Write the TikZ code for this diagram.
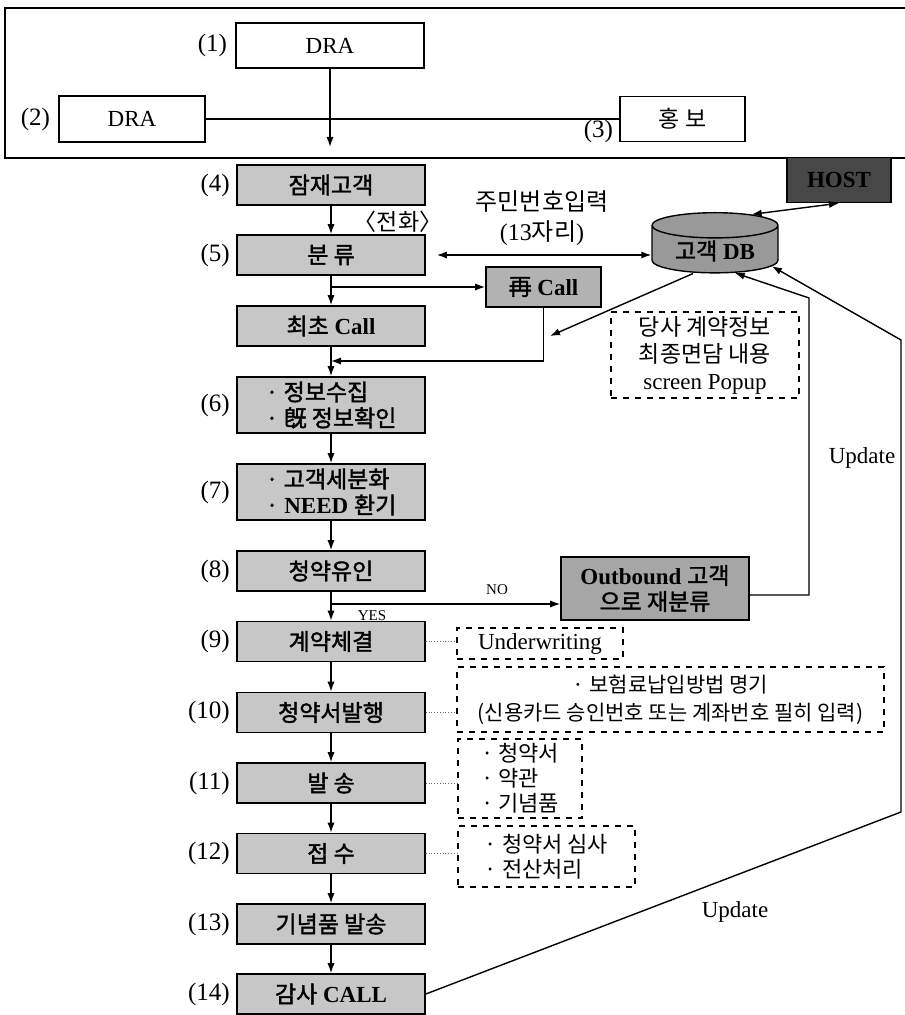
\documentclass[tikz,border=0pt]{standalone}
\usepackage{fontspec}
\setmainfont{Liberation Serif}
\newfontfamily\kr[AutoFakeBold=1.6]{Noto Sans CJK KR}
\newcommand{\ko}[1]{{\kr #1}}
\usetikzlibrary{shapes.geometric,arrows.meta}

\begin{document}
\begin{tikzpicture}[x=0.5pt, y=-0.5pt, >={Latex[length=5pt,width=3.6pt]},
	every node/.style={font=\fontsize{11.5}{13}\selectfont},
	flowbox/.style={draw, line width=0.8pt, fill=black!22, minimum width=94pt, minimum height=20pt, inner sep=1pt, align=left, font=\fontsize{11.5}{13}\selectfont\bfseries},
	whitebox/.style={draw, line width=0.6pt, fill=white, inner sep=1pt},
	notebox/.style={draw, dashed, line width=0.6pt, inner sep=2pt},
	tie/.style={densely dotted, line width=0.4pt, black!60},
	link/.style={line width=0.7pt}]
	\useasboundingbox (0,0) rectangle (904,1015);
	\draw[line width=0.8pt] (5,8) rectangle (912,158);

	\node[whitebox, minimum width=94pt, minimum height=22.5pt] (d1) at (330,45.5) {DRA};
	\node[whitebox, minimum width=73pt, minimum height=23pt] (d2) at (132,119) {DRA};
	\node[whitebox, minimum width=62.5pt, minimum height=22.5pt] (hb) at (682.5,119) {\ko{홍 보}};
	\node[anchor=east, inner sep=1pt, font=\fontsize{12.5}{14}\selectfont] (l1) at ([xshift=-3pt]d1.west) {(1)};
	\node[anchor=east, inner sep=1pt, font=\fontsize{12.5}{14}\selectfont] (l2) at ([xshift=-3pt]d2.west) {(2)};
	\node[anchor=east, inner sep=1pt, font=\fontsize{12.5}{14}\selectfont] (l3) at ([xshift=-2pt, yshift=-6pt]hb.west) {(3)};
	\coordinate (c1) at (330,147);
	\draw[->, link] (d1.south) -- (c1);
	\draw[link] (d2.east) -- (hb.west);

	\foreach \n/\y/\h/\txt in {
		4/185/20pt/{\ko{잠재고객}},
		5/255/20pt/{\ko{분 류}},
		5a/326/20pt/{\ko{최초} Call},
		6/405/28pt/{\ko{· 정보수집}\\\ko{· 旣 정보확인}},
		7/492/28pt/{\ko{· 고객세분화}\\\ko{·} NEED \ko{환기}},
		8/571/20pt/{\ko{청약유인}},
		9/641.5/20pt/{\ko{계약체결}},
		10/712.5/20pt/{\ko{청약서발행}},
		11/783/20pt/{\ko{발 송}},
		12/853.5/20pt/{\ko{접 수}},
		13/924/20pt/{\ko{기념품 발송}},
		14/994/20pt/{\ko{감사} CALL}}
		\node[flowbox, minimum height=\h] (b\n) at (331,\y) {\txt};
	\foreach \n in {4,...,14}
		\node[anchor=east, inner sep=1pt, font=\fontsize{12.5}{14}\selectfont] (l\n) at ([xshift=-2pt]b\n.west) {(\n)};
	\foreach \a/\b in {4/5, 5/5a, 5a/6, 6/7, 7/8, 8/9, 9/10, 10/11, 11/12, 12/13, 13/14}
		\draw[->, link] (b\a) -- (b\b);

	\node (tel) at (398,222) {\ko{〈전화〉}};
	\node[align=center, font=\fontsize{12}{15}\selectfont] (idnum) at (542,218) {\ko{주민번호입력}\\(13\ko{자리})};
	\node[cylinder, shape border rotate=90, aspect=0.3, draw, line width=0.7pt, fill=black!40, minimum width=63pt, minimum height=22pt, inner sep=1pt, font=\fontsize{11.5}{13}\selectfont\bfseries] (db) at (715,251) {\ko{고객} DB};
	\node[draw, line width=0.7pt, fill=black!72, minimum width=52pt, minimum height=22.5pt, font=\fontsize{11.5}{13}\selectfont\bfseries] (host) at (839,180) {HOST};
	\node[flowbox, fill=black!30, minimum width=57.5pt, align=center] (rc) at (543.5,287) {\ko{再} Call};
	\node[notebox, minimum width=94pt, minimum height=43pt, align=center, font=\fontsize{11.5}{13.5}\selectfont] (pop) at (705,355) {\ko{당사 계약정보}\\\ko{최종면담 내용}\\screen Popup};

	\draw[<->, link] ([xshift=5.5pt]b5.east) -- (b5.east -| db.west);
	\draw[<->, link] (host.south) -- (db.north east);
	\draw[->, link] (b5.south |- rc.west) -- (rc.west);
	\coordinate (j1) at (331,361);
	\draw[->, link] (rc.south) |- (j1);
	\coordinate (pp) at (550,336);
	\draw[->, link] ([xshift=-11pt]db.south) -- (pp);

	\node[flowbox, fill=black!35, minimum width=94pt, minimum height=31.5pt, align=center] (ob) at (655,588.5) {Outbound \ko{고객}\\\ko{으로 재분류}};
	\coordinate (j2) at (331,604);
	\draw[->, link] (j2) -- (j2 -| ob.west);
	\node[font=\fontsize{7.5}{9}\selectfont] (no) at (497,590) {NO};
	\node[font=\fontsize{7.5}{9}\selectfont] (yes) at (372,616) {YES};
	\coordinate (k1) at (809,298);
	\draw[->, link] ([yshift=-3.25pt]ob.east) -| (k1) -- (db.-48);
	\coordinate (k2) at (901,812);
	\coordinate (k3) at (901,340);
	\draw[->, link] (b14.east) -- (k2) -- (k3) -- (db.-15);
	\node (up1) at (862,458) {Update};
	\node (up2) at (735,912) {Update};

	\node[notebox, minimum width=83pt, minimum height=15.5pt] (n9) at (540,643.5) {Underwriting};
	\node[notebox, minimum width=213.5pt, minimum height=32.5pt, align=center, font=\fontsize{10.5}{14}\selectfont\kr] (n10) at (670.5,699.5) {· 보험료납입방법 명기\\(신용카드 승인번호 또는 계좌번호 필히 입력)};
	\node[notebox, minimum width=62pt, minimum height=39.5pt, align=left, font=\fontsize{11}{12.5}\selectfont\kr] (n11) at (520,778.5) {· 청약서\\· 약관\\· 기념품};
	\node[notebox, minimum width=88.5pt, minimum height=30.5pt, align=left, font=\fontsize{11}{12.5}\selectfont\kr] (n12) at (546.5,856.5) {· 청약서 심사\\· 전산처리};
	\foreach \n in {9,10,11,12}
		\draw[tie] (b\n.east) -- (b\n.east -| n\n.west);
\end{tikzpicture}
\end{document}
